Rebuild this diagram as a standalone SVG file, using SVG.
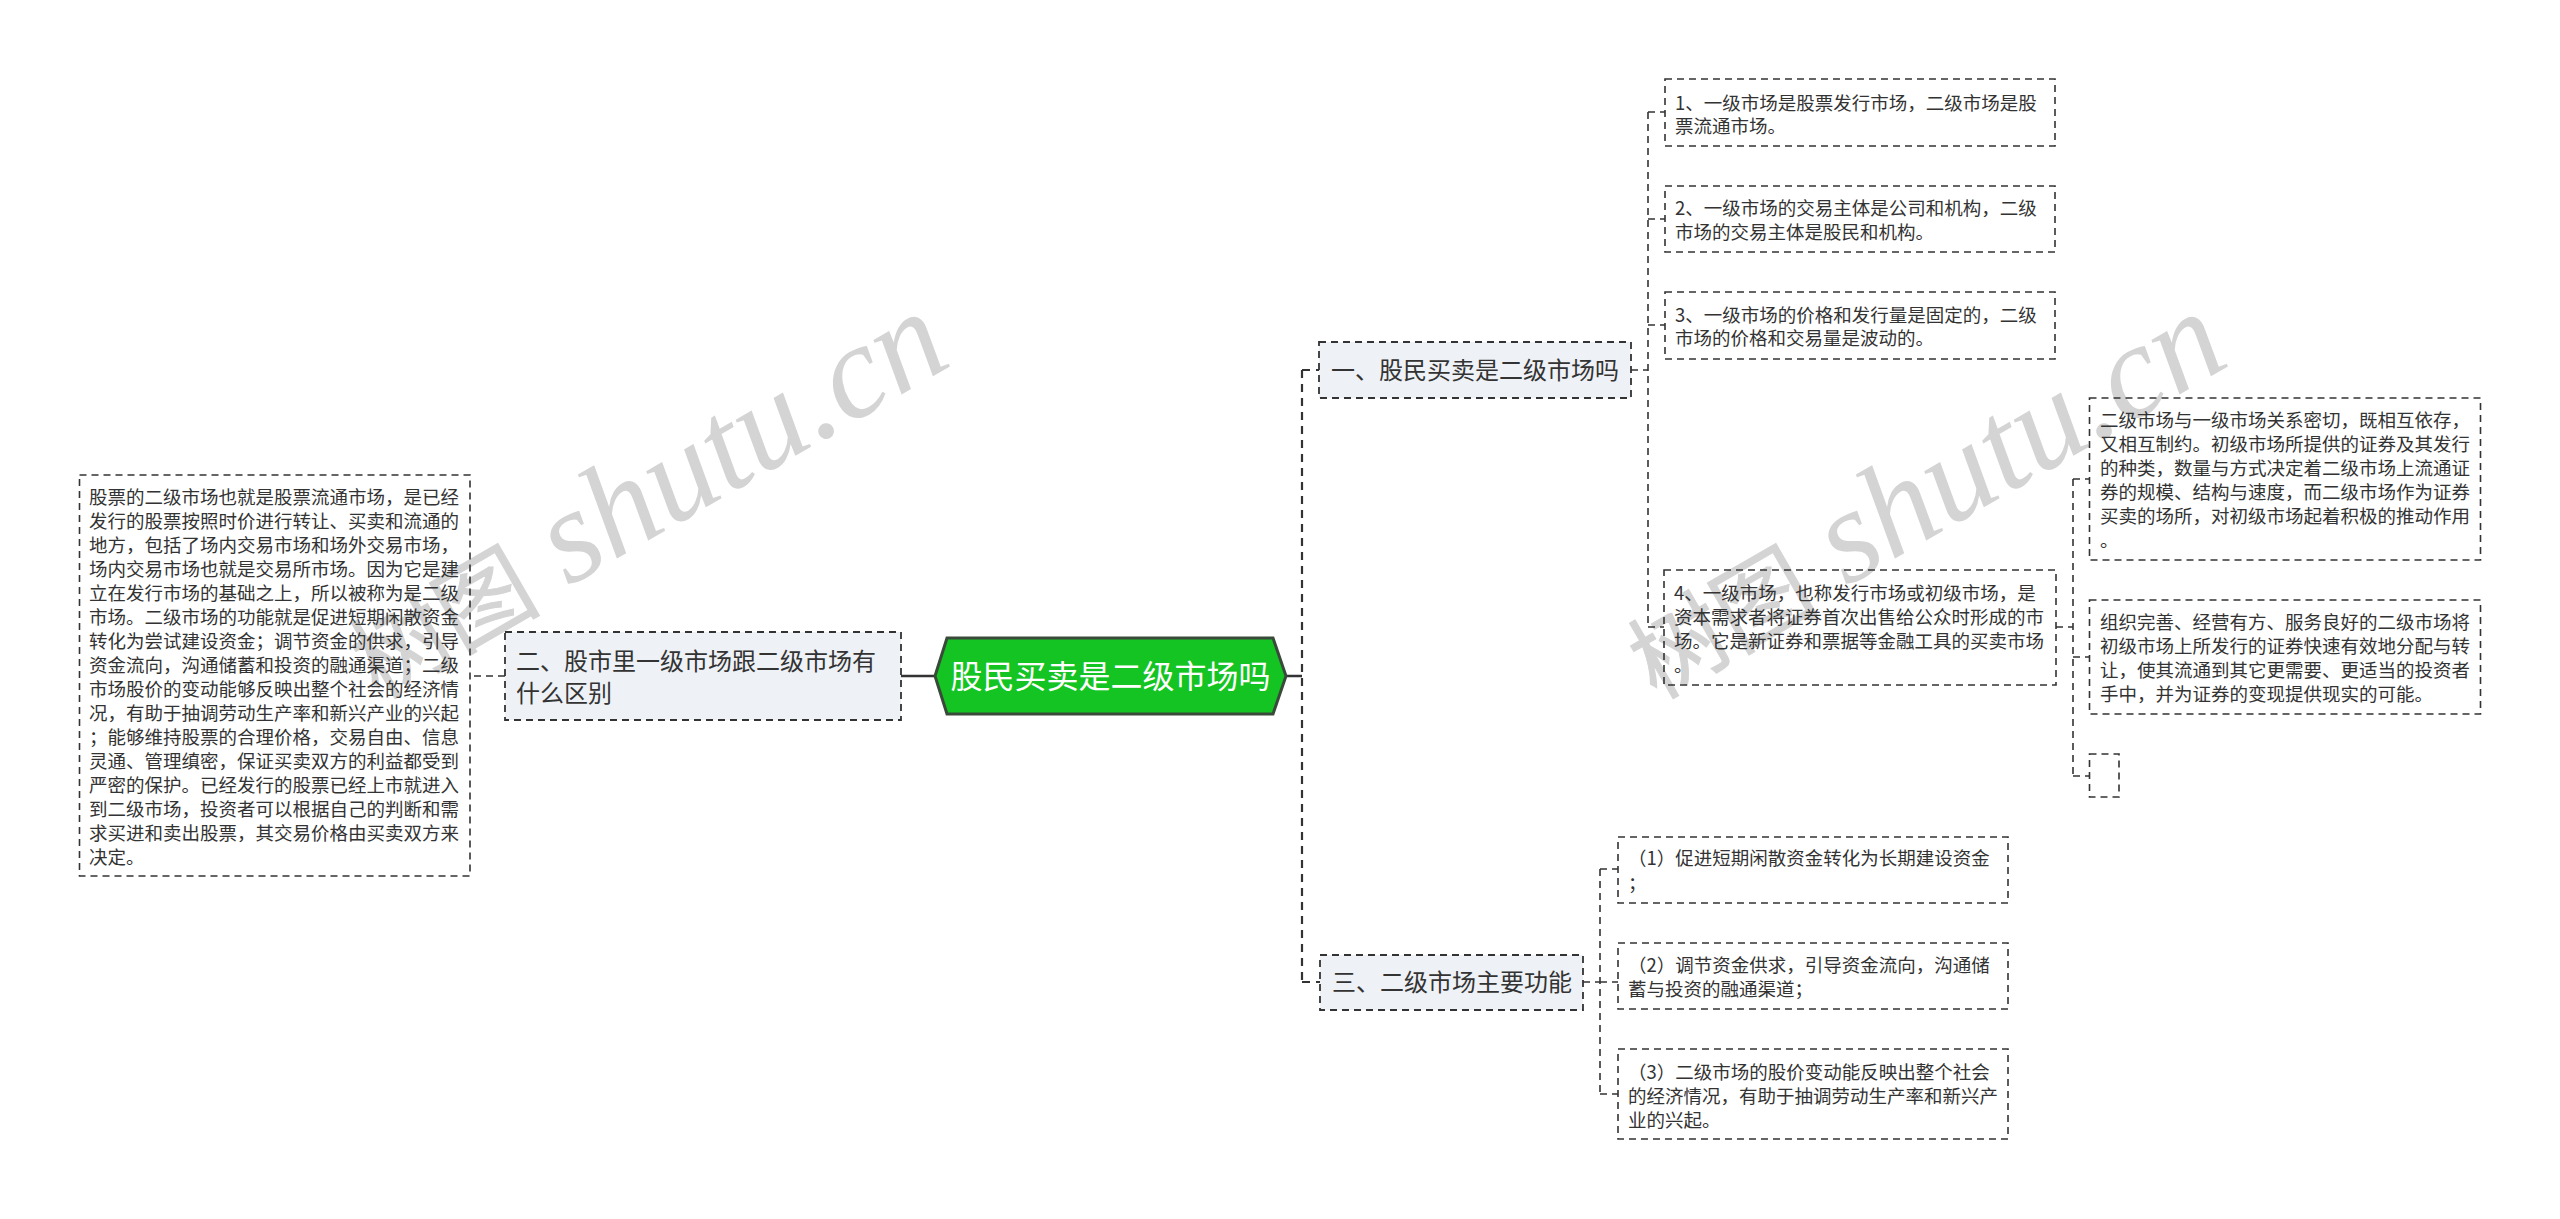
<svg xmlns="http://www.w3.org/2000/svg" width="2560" height="1219" viewBox="0 0 2560 1219">
<style>
text{font-family:"Noto Sans CJK SC","Liberation Sans",sans-serif;fill:#333}
.wm{font-family:"Liberation Serif","Noto Sans CJK SC",serif;font-style:italic;font-size:133px;fill:#d4d4d4}
.wc{font-family:"Noto Sans CJK SC",sans-serif;font-size:95px;fill:#d4d4d4;stroke:#d4d4d4;stroke-width:1}
.leaf rect{fill:none;stroke:#333;stroke-width:1.6;stroke-dasharray:7 5}
.leaf text{font-size:18.5px}
.sub rect{fill:#eef1f5;stroke:#333;stroke-width:1.8;stroke-dasharray:7 5}
.sub text{font-size:24px}
.c{fill:none;stroke:#333;stroke-width:1.6;stroke-dasharray:7 5}
.m{fill:none;stroke:#333;stroke-width:2.2;stroke-dasharray:8 6}
.s{fill:none;stroke:#333;stroke-width:2.5}
</style>
<rect width="2560" height="1219" fill="#fff"/>
<text class="wc" transform="translate(378 700) rotate(-30)">树图</text>
<text class="wm" transform="translate(568 587) rotate(-30)">shutu.cn</text>
<text class="wc" transform="translate(1656 700) rotate(-30)">树图</text>
<text class="wm" transform="translate(1846 587) rotate(-30)">shutu.cn</text>
<g id="connectors">
<path class="s" d="M901 676H935M1286 676H1302"/>
<path class="m" d="M1302 370V982M1302 370H1319M1302 982H1320"/>
<path class="c" d="M505 676H470"/>
<path class="c" d="M1631 370H1648M1648 112V627M1648 112H1665M1648 219H1665M1648 325H1665M1648 627H1664"/>
<path class="c" d="M2056 627H2073M2073 479V776M2073 479H2089M2073 657H2089M2073 776H2089"/>
<path class="c" d="M1583 982H1600M1600 869V1094M1600 869H1618M1600 982H1618M1600 1094H1618"/>
</g>
<g id="root">
<path d="M947 638H1273L1286 676L1273 714H947L935 676Z" fill="#14c422" stroke="#3a4a3a" stroke-width="3"/>
<text x="1110.500" y="688" text-anchor="middle" font-size="32" style="fill:#fff">股民买卖是二级市场吗</text>
</g>
<g id="n2" class="sub"><rect x="505" y="632" width="396" height="88"/>
<text x="516" y="670">二、股市里一级市场跟二级市场有</text><text x="516" y="702">什么区别</text></g>
<g id="n1" class="sub"><rect x="1319" y="342" width="312" height="56"/>
<text x="1331" y="379">一、股民买卖是二级市场吗</text></g>
<g id="n3" class="sub"><rect x="1320" y="955" width="263" height="55"/>
<text x="1332" y="991">三、二级市场主要功能</text></g>
<g id="left" class="leaf"><rect x="79.500" y="475" width="390.500" height="401"/>
<text x="89" y="504">股票的二级市场也就是股票流通市场，是已经</text>
<text x="89" y="528">发行的股票按照时价进行转让、买卖和流通的</text>
<text x="89" y="552">地方，包括了场内交易市场和场外交易市场，</text>
<text x="89" y="576">场内交易市场也就是交易所市场。因为它是建</text>
<text x="89" y="600">立在发行市场的基础之上，所以被称为是二级</text>
<text x="89" y="624">市场。二级市场的功能就是促进短期闲散资金</text>
<text x="89" y="648">转化为尝试建设资金；调节资金的供求，引导</text>
<text x="89" y="672">资金流向，沟通储蓄和投资的融通渠道；二级</text>
<text x="89" y="696">市场股价的变动能够反映出整个社会的经济情</text>
<text x="89" y="720">况，有助于抽调劳动生产率和新兴产业的兴起</text>
<text x="89" y="744">；能够维持股票的合理价格，交易自由、信息</text>
<text x="89" y="768">灵通、管理缜密，保证买卖双方的利益都受到</text>
<text x="89" y="792">严密的保护。已经发行的股票已经上市就进入</text>
<text x="89" y="816">到二级市场，投资者可以根据自己的判断和需</text>
<text x="89" y="840">求买进和卖出股票，其交易价格由买卖双方来</text>
<text x="89" y="864">决定。</text></g>
<g id="l1" class="leaf"><rect x="1665" y="79" width="390" height="67"/>
<text x="1675" y="110">1、一级市场是股票发行市场，二级市场是股</text><text x="1675" y="133">票流通市场。</text></g>
<g id="l2" class="leaf"><rect x="1665" y="186" width="390" height="66"/>
<text x="1675" y="215">2、一级市场的交易主体是公司和机构，二级</text><text x="1675" y="239">市场的交易主体是股民和机构。</text></g>
<g id="l3" class="leaf"><rect x="1665" y="292" width="390" height="67"/>
<text x="1675" y="322">3、一级市场的价格和发行量是固定的，二级</text><text x="1675" y="345">市场的价格和交易量是波动的。</text></g>
<g id="l4" class="leaf"><rect x="1664" y="570" width="392" height="115"/>
<text x="1674" y="600">4、一级市场，也称发行市场或初级市场，是</text><text x="1674" y="624">资本需求者将证券首次出售给公众时形成的市</text><text x="1674" y="648">场。它是新证券和票据等金融工具的买卖市场</text><text x="1674" y="672">。</text></g>
<g id="a" class="leaf"><rect x="2089.500" y="398" width="391" height="162"/>
<text x="2100" y="427">二级市场与一级市场关系密切，既相互依存，</text><text x="2100" y="451">又相互制约。初级市场所提供的证券及其发行</text><text x="2100" y="475">的种类，数量与方式决定着二级市场上流通证</text><text x="2100" y="499">券的规模、结构与速度，而二级市场作为证券</text><text x="2100" y="523">买卖的场所，对初级市场起着积极的推动作用</text><text x="2100" y="547">。</text></g>
<g id="b" class="leaf"><rect x="2089.500" y="600" width="391" height="114"/>
<text x="2100" y="629">组织完善、经营有方、服务良好的二级市场将</text><text x="2100" y="653">初级市场上所发行的证券快速有效地分配与转</text><text x="2100" y="677">让，使其流通到其它更需要、更适当的投资者</text><text x="2100" y="701">手中，并为证券的变现提供现实的可能。</text></g>
<g id="c" class="leaf"><rect x="2089.500" y="754" width="29.500" height="43"/></g>
<g id="f1" class="leaf"><rect x="1618" y="837" width="390" height="66"/>
<text x="1628" y="865">（1）促进短期闲散资金转化为长期建设资金</text><text x="1628" y="890">；</text></g>
<g id="f2" class="leaf"><rect x="1618" y="943" width="390" height="66"/>
<text x="1628" y="972">（2）调节资金供求，引导资金流向，沟通储</text><text x="1628" y="996">蓄与投资的融通渠道；</text></g>
<g id="f3" class="leaf"><rect x="1618" y="1049" width="390" height="90"/>
<text x="1628" y="1079">（3）二级市场的股价变动能反映出整个社会</text><text x="1628" y="1103">的经济情况，有助于抽调劳动生产率和新兴产</text><text x="1628" y="1127">业的兴起。</text></g>
</svg>
